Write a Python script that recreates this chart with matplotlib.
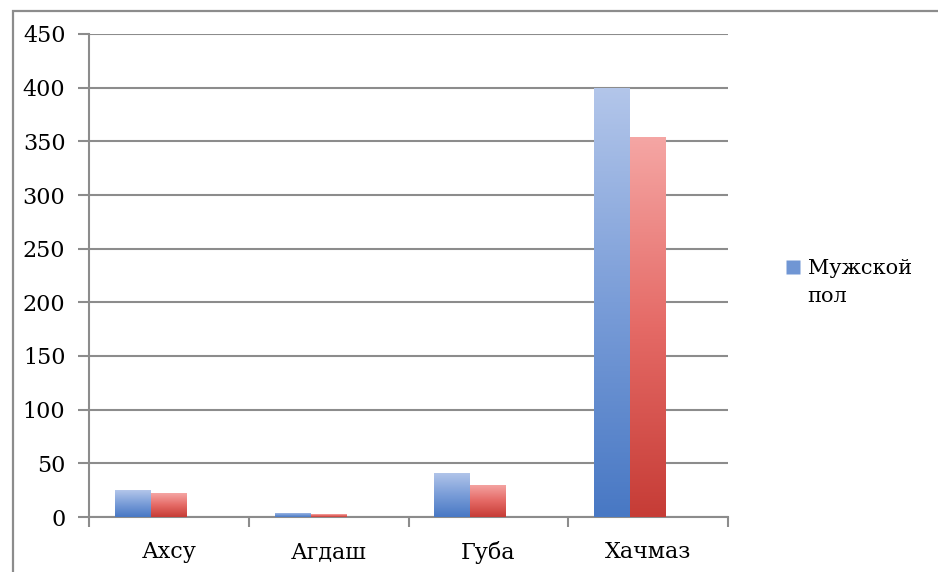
import matplotlib.pyplot as plt
import numpy as np
from matplotlib.colors import LinearSegmentedColormap
from matplotlib.patches import Rectangle
from matplotlib.lines import Line2D
from matplotlib.legend_handler import HandlerLine2D

# data
regions = ['Ахсу', 'Агдаш', 'Губа', 'Хачмаз']
male = [25, 4, 41, 400]
female = [22, 2.5, 30, 354]
legend_label = 'Мужской\nпол'
yticks = [0, 50, 100, 150, 200, 250, 300, 350, 400, 450]

plt.rcParams['font.family'] = ['DejaVu Serif']


class TopLineHandler(HandlerLine2D):
    # put the legend square next to the first text line
    def create_artists(self, legend, orig_handle, xdescent, ydescent,
                       width, height, fontsize, trans):
        return super().create_artists(legend, orig_handle, xdescent, ydescent - 24,
                                      width, height, fontsize, trans)


fig = plt.figure(figsize=(9.38, 5.72), dpi=100)
ax = fig.add_axes([89 / 938, 55 / 572, (728 - 89) / 938, (517 - 34) / 572])

# outer frame (top and left edges visible in the original)
fig.patches.append(Rectangle((13 / 938, -0.1), 1.2, (572 - 11) / 572 + 0.1,
                             transform=fig.transFigure, fill=False,
                             edgecolor='#8c8c8c', linewidth=1.6))

blue_cmap = LinearSegmentedColormap.from_list('b', ['#4878c4', '#7a9dd8', '#b3c6ea'])
red_cmap = LinearSegmentedColormap.from_list('r', ['#c63c36', '#e56a66', '#f5a6a4'])

x = np.arange(len(regions))
w = 0.225
bars_m = ax.bar(x - w, male, w, align='center', color='none', zorder=3)
bars_f = ax.bar(x, female, w, align='center', color='none', zorder=3)

grad = np.linspace(0, 1, 256).reshape(-1, 1)
for bars, cmap in [(bars_m, blue_cmap), (bars_f, red_cmap)]:
    for b in bars:
        x0, y0 = b.get_x(), b.get_y()
        bw, bh = b.get_width(), b.get_height()
        # soft shadow under the bar
        ax.add_patch(Rectangle((x0, y0 - 2.5), bw, bh, facecolor='#000000',
                               alpha=0.07, edgecolor='none', zorder=2))
        im = ax.imshow(grad, cmap=cmap, origin='lower', aspect='auto',
                       extent=(x0, x0 + bw, y0, y0 + bh), zorder=3)
        im.set_clip_path(b)

ax.set_xlim(-0.5, len(regions) - 0.5)
ax.set_ylim(0, 450)
ax.set_yticks(yticks)
ax.set_xticks(x)
ax.set_xticklabels(regions)
ax.set_xticks(np.arange(len(regions) + 1) - 0.5, minor=True)

ax.grid(axis='y', color='#8c8c8c', linewidth=1.5, zorder=1)
ax.set_axisbelow(True)
for s in ['top', 'right']:
    ax.spines[s].set_visible(False)
for s in ['left', 'bottom']:
    ax.spines[s].set_color('#8c8c8c')
    ax.spines[s].set_linewidth(1.5)

ax.tick_params(axis='y', length=8, width=1.5, color='#8c8c8c', labelsize=16, pad=9)
ax.tick_params(axis='x', which='major', length=0, labelsize=16, pad=17)
ax.tick_params(axis='x', which='minor', length=7, width=1.5, color='#8c8c8c')

handle = Line2D([], [], marker='s', linestyle='none', markersize=10,
                markerfacecolor='#7096d4', markeredgecolor='none')
leg = fig.legend([handle], [legend_label], loc='center left',
                 bbox_to_anchor=(766 / 938, 1 - 283 / 572), frameon=False,
                 fontsize=15, handlelength=0.8, handletextpad=0.3,
                 handler_map={Line2D: TopLineHandler()})
for t in leg.get_texts():
    t.set_linespacing(1.6)

fig.savefig('out.png', dpi=100)
